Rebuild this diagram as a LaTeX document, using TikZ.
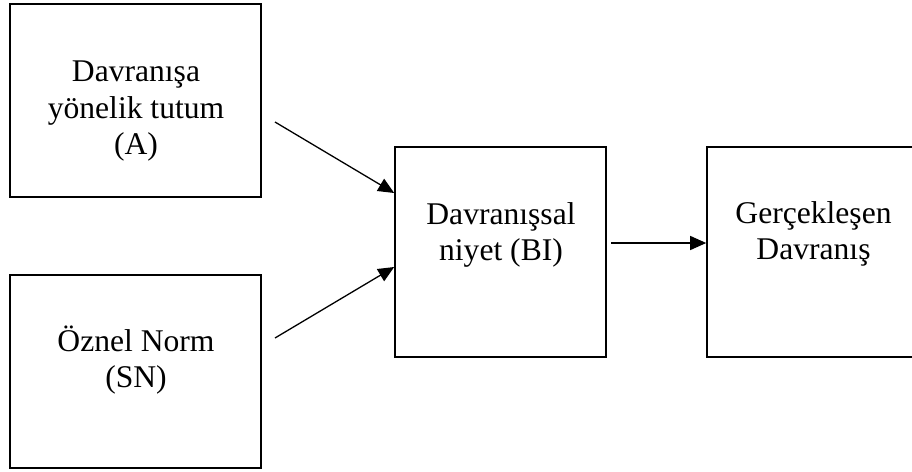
\documentclass[tikz,border=0pt]{standalone}
\usepackage{fontspec}
\setmainfont{Liberation Serif}
\usetikzlibrary{arrows.meta}
\tikzset{
  boxnode/.style={draw, line width=1.6pt, inner sep=0pt},
  txt/.style={align=center, inner sep=0pt, font=\fontsize{31.6}{36.7}\selectfont},
  conn/.style={line width=1.3pt, -{Triangle[length=16pt,width=14pt]}}
}
\begin{document}
\begin{tikzpicture}[x=1pt,y=-1pt]
\useasboundingbox (0,0) rectangle (912,471);
\node[boxnode, minimum width=251pt, minimum height=193pt] (A) at (135.5,100.5) {};
\node[boxnode, minimum width=251pt, minimum height=193pt] (SN) at (135.5,371.5) {};
\node[boxnode, minimum width=211pt, minimum height=210pt] (BI) at (500.5,252) {};
\node[boxnode, minimum width=213pt, minimum height=210pt] (B) at (813.5,252) {};
\node[txt] (tA) at (136,111.3) {Davranışa\\yönelik tutum\\(A)};
\node[txt] (tSN) at (136,360) {Öznel Norm\\(SN)};
\node[txt] (tBI) at (501,235) {Davranışsal\\niyet (BI)};
\node[txt] (tB) at (813.5,234) {Gerçekleşen\\Davranış};
\coordinate (s1) at (275,122);
\coordinate (s2) at (275,338);
\coordinate (s3) at (611,243);
\coordinate (e1) at (BI.west |- 0,193);
\coordinate (e2) at (BI.west |- 0,267);
\coordinate (e3) at (B.west |- 0,243);
\draw[conn] (s1) -- (e1);
\draw[conn] (s2) -- (e2);
\draw[conn] (s3) -- (e3);
\end{tikzpicture}
\end{document}
